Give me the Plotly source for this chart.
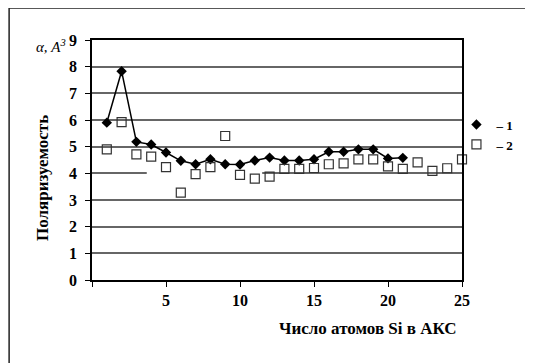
import plotly.graph_objects as go

# Data
x1 = list(range(1, 22))
y1 = [5.9, 7.83, 5.18, 5.08, 4.78, 4.47, 4.34, 4.53, 4.34, 4.33, 4.48,
      4.59, 4.48, 4.48, 4.53, 4.81, 4.81, 4.9, 4.9, 4.56, 4.58]
x2 = list(range(1, 26))
y2 = [4.9, 5.92, 4.71, 4.63, 4.23, 3.28, 3.97, 4.23, 5.4, 3.94, 3.8,
      3.88, 4.17, 4.17, 4.2, 4.34, 4.37, 4.52, 4.52, 4.26, 4.17, 4.41,
      4.09, 4.19, 4.52]
x_ticks = [0, 5, 10, 15, 20, 25]
x_tick_text = ["", "5", "10", "15", "20", "25"]
y_ticks = list(range(0, 10))

FONT = "Liberation Serif"

fig = go.Figure()
fig.add_trace(go.Scatter(x=x1, y=y1, mode="lines", line=dict(color="black", width=1.5),
                         showlegend=False, cliponaxis=False))
fig.add_trace(go.Scatter(x=x1, y=y1, mode="markers", name="– 1",
                         marker=dict(symbol="diamond", size=8, color="black"),
                         cliponaxis=False))
fig.add_trace(go.Scatter(x=x2, y=y2, mode="markers", name="– 2",
                         marker=dict(symbol="square-open", size=9, color="#333",
                                     line=dict(width=1.2)),
                         cliponaxis=False))

fig.update_layout(
    width=533, height=363,
    margin=dict(l=84, r=79, t=32, b=91),
    paper_bgcolor="white", plot_bgcolor="white",
    font=dict(family=FONT, size=14, color="black"),
    showlegend=True,
    legend=dict(x=0.985, xanchor="left", y=0.71, yanchor="top",
                font=dict(family=FONT, size=13, color="black", weight="bold"),
                itemwidth=30, tracegroupgap=0, bgcolor="rgba(0,0,0,0)"),
    xaxis=dict(range=[0, 25], tickvals=x_ticks, ticktext=x_tick_text,
               showgrid=False, zeroline=False, showline=True, linecolor="black",
               linewidth=1.5, mirror=True, ticks="outside", ticklen=5,
               tickcolor="black", tickfont=dict(family=FONT, size=16, weight="bold")),
    yaxis=dict(range=[0, 9], tickvals=y_ticks, showgrid=True, gridcolor="#666",
               gridwidth=1.5, zeroline=False, showline=True, linecolor="black",
               linewidth=1.5, mirror=True, ticks="outside", ticklen=5,
               ticklabelstandoff=5,
               tickcolor="black", tickfont=dict(family=FONT, size=16, weight="bold")),
    shapes=[
        dict(type="line", xref="x", yref="y", x0=3.7, x1=11.5, y0=4, y1=4,
             line=dict(color="white", width=3), layer="between"),
        dict(type="rect", xref="paper", yref="paper", x0=-0.224, x1=1.3,
             y0=-0.45, y1=1.133, line=dict(color="#222", width=1.5)),
    ],
    annotations=[
        dict(text="<b>Число атомов Si в АКС</b>", xref="paper", yref="paper",
             x=0.746, y=-0.2, showarrow=False, xanchor="center", yanchor="middle",
             font=dict(family=FONT, size=17)),
        dict(text="<b>Поляризуемость</b>", xref="paper", yref="paper",
             x=-0.135, y=0.425, showarrow=False, textangle=-90,
             xanchor="center", yanchor="middle", font=dict(family=FONT, size=17)),
        dict(text="<i>α, A<sup>3</sup></i>", xref="paper", yref="paper",
             x=-0.11, y=0.975, showarrow=False, xanchor="center", yanchor="middle",
             font=dict(family=FONT, size=15)),
    ],
)

fig.write_html("out.html")
